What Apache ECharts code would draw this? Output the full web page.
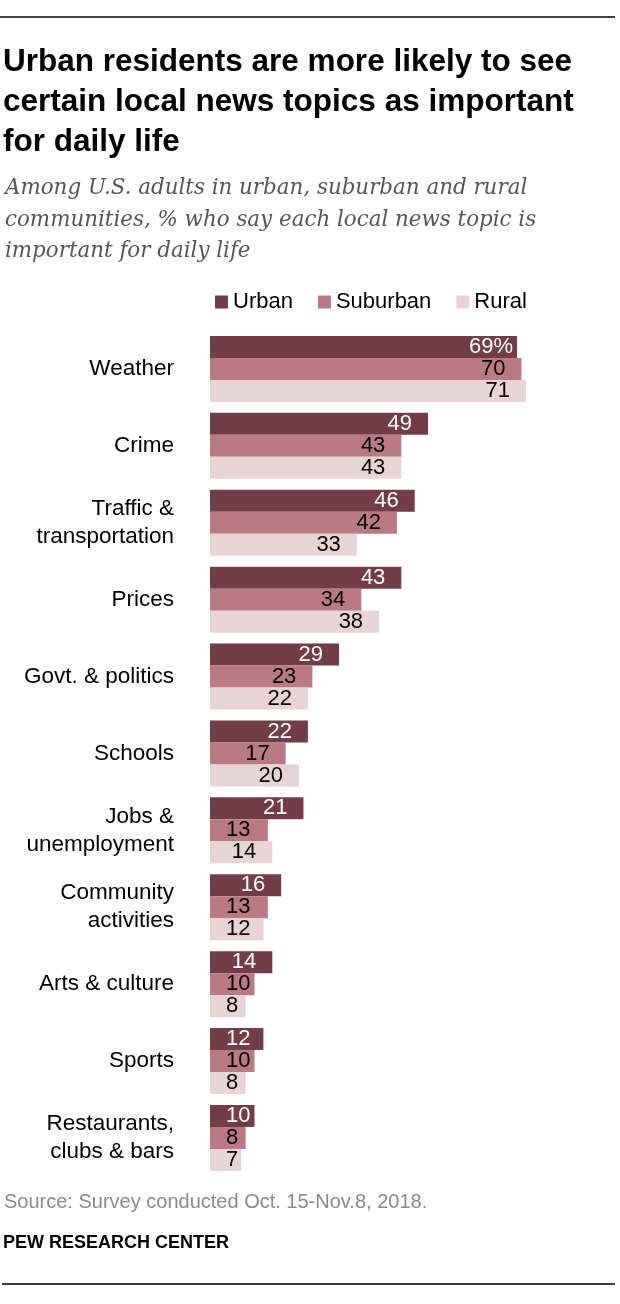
<!DOCTYPE html>
<html>
<head>
<meta charset="utf-8">
<script src="https://cdn.jsdelivr.net/npm/echarts@6/dist/echarts.min.js"></script>
<style>
html,body{margin:0;padding:0;background:#fff;}
#c{width:620px;height:1304px;}
</style>
</head>
<body>
<div id="c"></div>
<script>
const categories = ["Weather","Crime","Traffic &\ntransportation","Prices","Govt. & politics","Schools","Jobs &\nunemployment","Community\nactivities","Arts & culture","Sports","Restaurants,\nclubs & bars"];
const urban = [69,49,46,43,29,22,21,16,14,12,10];
const suburban = [70,43,42,34,23,17,13,13,10,10,8];
const rural = [71,43,33,38,22,20,14,12,8,8,7];
const seriesNames = ["Urban","Suburban","Rural"];
const colors = ["#733d47","#b97a83","#e8d3d7"];
const labelColors = ["#ffffff","#000000","#000000"];

const FONT = "'Liberation Sans',Arial,sans-serif";
const chart = echarts.init(document.getElementById('c'), null, {renderer:'canvas'});

function mk(i, values){
  const data = values.map(function(v, k){
    const item = {value: v};
    if (v <= 13) {
      item.label = {position:'insideLeft', distance:16};
    } else if (i === 0 && k === 0) {
      item.label = {offset:[12,0]};
    }
    return item;
  });
  return {
    name: seriesNames[i], type:'bar', data: data,
    barWidth: 22, barGap: '0%',
    itemStyle:{color: colors[i]},
    silent:true,
    label:{
      show:true, position:'insideRight', distance:16,
      color: labelColors[i], fontSize:22, fontFamily: FONT,
      formatter: function(p){ return (i===0 && p.dataIndex===0) ? p.value + '%' : String(p.value); }
    }
  };
}

chart.setOption({
  animation:false,
  graphic:[
    {type:'line', shape:{x1:0,y1:17,x2:615,y2:17}, style:{stroke:'#000',lineWidth:1.3}},
    {type:'line', shape:{x1:2,y1:1284,x2:615,y2:1284}, style:{stroke:'#000',lineWidth:1.3}},
    {type:'text', left:3, top:42, style:{text:"Urban residents are more likely to see\ncertain local news topics as important\nfor daily life", font:"bold 31.5px "+FONT, fill:'#000', lineHeight:40}},
    {type:'text', left:5, top:173, style:{text:"Among U.S. adults in urban, suburban and rural\ncommunities, % who say each local news topic is\nimportant for daily life", font:"italic 21.4px 'DejaVu Serif',serif", fill:'#555', lineHeight:31.5}},
    {type:'text', left:4, top:1192, style:{text:"Source: Survey conducted Oct. 15-Nov.8, 2018.", font:"20px "+FONT, fill:'#8a8a8a'}},
    {type:'text', left:3, top:1234, style:{text:"PEW RESEARCH CENTER", font:"bold 18px "+FONT, fill:'#000'}}
  ],
  legend:{
    top:286, left:210, itemWidth:13, itemHeight:13, itemGap:25,
    icon:'rect',
    textStyle:{fontSize:22, fontFamily:FONT, color:'#000'},
    data: seriesNames, selectedMode:false
  },
  grid:{left:210, right:54, top:330.5, bottom:1304-1176.4, containLabel:false},
  xAxis:{type:'value', min:0, max:80, show:false},
  yAxis:{
    type:'category', data:categories, inverse:true,
    axisLine:{show:false}, axisTick:{show:false}, splitLine:{show:false},
    axisLabel:{fontSize:22.5, fontFamily:FONT, color:'#000', margin:36, align:'right', lineHeight:28}
  },
  series:[mk(0,urban), mk(1,suburban), mk(2,rural)]
});
</script>
</body>
</html>
